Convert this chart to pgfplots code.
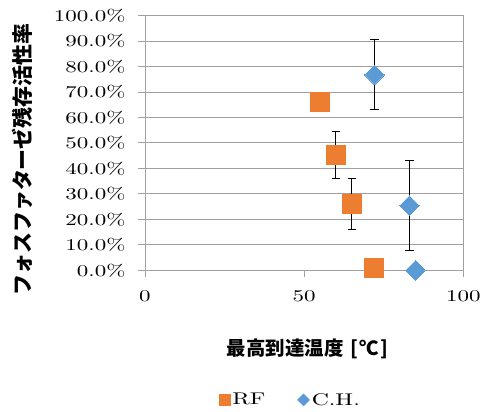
\documentclass[border=0pt]{standalone}
\usepackage{fontspec}
\usepackage{pgfplots}
\pgfplotsset{compat=1.18}
\newfontfamily\lmw{lmroman10-regular}[Extension=.otf, FakeStretch=1.4]
\newfontfamily\cjk{Noto Sans CJK JP}
\definecolor{rfo}{HTML}{ED7D31}
\definecolor{chb}{HTML}{5B9BD5}
\definecolor{gridg}{HTML}{A0A0A0}
\begin{document}
\begin{tikzpicture}
\useasboundingbox (0bp,0bp) rectangle (484bp,412bp);
\begin{axis}[
  at={(145bp,141.7bp)}, anchor=south west,
  scale only axis, width=318.3bp, height=254.6bp,
  xmin=0, xmax=100, ymin=0, ymax=100,
  xtick={0,50,100}, ytick={0,10,...,100},
  xtick pos=bottom, ytick pos=left,
  tick align=outside, major tick length=7bp,
  tick style={gridg, line width=1bp},
  axis line style={gridg, line width=1bp},
  ymajorgrids, grid style={gridg, line width=1bp},
  /pgf/number format/assume math mode=true,
  tick label style={font=\lmw\fontsize{16.5}{18}\selectfont, text=black},
  yticklabel style={xshift=-9bp},
  xticklabel style={yshift=-10bp},
  yticklabel={\pgfmathprintnumber[fixed,fixed zerofill,precision=1]{\tick}\%},
  xticklabel={\pgfmathprintnumber{\tick}},
  clip=false,
  legend style={at={(rel axis cs:0.457,-0.509)}, anchor=center, draw=none, fill=none,
    legend columns=2, font=\lmw\fontsize{17}{19}\selectfont,
    /tikz/every even column/.append style={column sep=30bp}},
]
% error bars (drawn first, marks drawn on top)
\addplot[forget plot, color=black, only marks, mark=none,
  error bars/.cd, y dir=both, y explicit, error mark=-,
  error bar style={black, line width=1bp},
  error mark options={color=black, line width=1bp, mark size=4.2bp, rotate=90}]
  coordinates {(60,45.3) +- (0,9.3) (65,25.9) +- (0,10.0) (72.1,76.8) +- (0,13.7) (83.1,25.4) +- (0,17.8)};
% markers
\addplot[color=rfo, only marks, mark=square*, mark size=9.6bp, mark options={fill=rfo, draw=rfo, line width=0pt},
  legend image code/.code={\fill[rfo] (0bp,-5.5bp) rectangle (11bp,5.5bp);}]
  coordinates {(55.1,66.0) (60,45.3) (65,25.9) (72,1.0)};
\addlegendentry{RF}
\addplot[color=chb, only marks, mark=square*, mark size=6.9bp, mark options={fill=chb, draw=chb, line width=0pt, rotate=45},
  legend image code/.code={\fill[chb] (6bp,-6bp) -- (12bp,0bp) -- (6bp,6bp) -- (0bp,0bp) -- cycle;}]
  coordinates {(72.1,76.8) (83.1,25.4) (85,0)};
\addlegendentry{C.H.}
\node[rotate=90, font=\cjk\bfseries\fontsize{21}{21}\selectfont] at (rel axis cs:-0.385,0.435) {フォスファターゼ残存活性率};
\node[font=\cjk\bfseries\fontsize{19.5}{19.5}\selectfont] at (rel axis cs:0.511,-0.309) {最高到達温度\hspace{7bp}[\hspace{1.5bp}℃\hspace{1.5bp}]};
\end{axis}
\end{tikzpicture}
\end{document}
